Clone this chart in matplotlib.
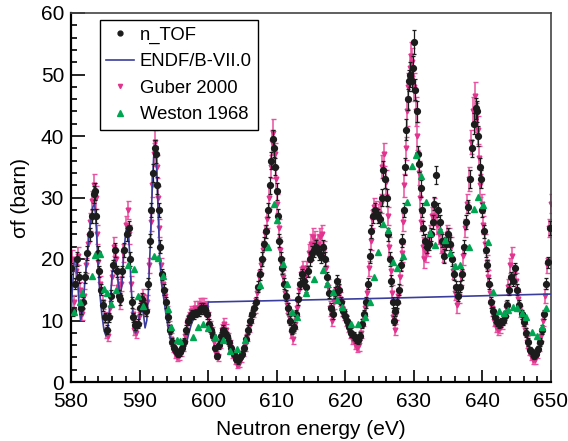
import matplotlib
matplotlib.use("Agg")
import matplotlib.pyplot as plt
from matplotlib.lines import Line2D
from matplotlib.ticker import MultipleLocator

plt.rcParams["font.family"] = ["Liberation Sans", "DejaVu Sans"]

# n_TOF data (energy in eV, fission cross section in barn, uncertainty)
ntof_energy = [
    580.0, 580.3, 580.6, 580.9, 581.2, 581.5, 581.8, 582.1, 582.4, 582.7, 583.0, 583.3, 583.5, 583.7, 583.9, 584.1, 584.4, 584.7,
    585.0, 585.2, 585.5, 585.8, 586.1, 586.4, 586.7, 587.0, 587.2, 587.5, 587.8, 588.1, 588.4, 588.6, 588.9, 589.1, 589.4, 589.7,
    590.0, 590.3, 590.6, 590.9, 591.2, 591.5, 591.7, 592.0, 592.2, 592.4, 592.6, 592.8, 593.0, 593.2, 593.5, 593.8, 594.1, 594.4,
    594.7, 595.0, 595.3, 595.6, 595.9, 596.2, 596.5, 596.8, 597.1, 597.4, 597.7, 598.0, 598.3, 598.6, 598.9, 599.2, 599.5, 599.8,
    600.1, 600.4, 600.7, 601.0, 601.3, 601.6, 601.9, 602.2, 602.5, 602.8, 603.1, 603.4, 603.7, 604.0, 604.3, 604.6, 604.9, 605.2,
    605.5, 605.8, 606.1, 606.4, 606.7, 607.0, 607.3, 607.6, 607.9, 608.2, 608.5, 608.8, 609.0, 609.2, 609.4, 609.6, 609.8,
    610.0, 610.2, 610.4, 610.6, 610.8, 611.0, 611.3, 611.6, 611.9, 612.2, 612.5, 612.8, 613.1, 613.4, 613.7, 614.0, 614.3, 614.6,
    614.9, 615.2, 615.5, 615.8, 616.1, 616.4, 616.7, 617.0, 617.3, 617.6, 617.9, 618.2, 618.5, 618.8, 619.1, 619.4, 619.7,
    620.0, 620.3, 620.6, 620.9, 621.2, 621.5, 621.8, 622.1, 622.4, 622.7, 623.0, 623.3, 623.6, 623.8, 624.1, 624.4, 624.7, 625.0,
    625.3, 625.5, 625.8, 626.1, 626.3, 626.5, 626.7, 626.9, 627.1, 627.3, 627.6, 627.9, 628.1, 628.3, 628.5, 628.7, 628.9, 629.1,
    629.3, 629.5, 629.7, 629.9,
    630.0, 630.2, 630.4, 630.6, 630.8, 631.0, 631.2, 631.4, 631.6, 631.9, 632.2, 632.5, 632.8, 633.0, 633.3, 633.5, 633.8, 634.1,
    634.4, 634.7, 635.0, 635.3, 635.6, 635.9, 636.2, 636.5, 636.8, 637.0, 637.3, 637.6, 637.9, 638.2, 638.5, 638.8, 639.0, 639.2,
    639.4, 639.6, 639.8,
    640.0, 640.2, 640.5, 640.7, 640.9, 641.2, 641.5, 641.8, 642.1, 642.4, 642.7, 643.0, 643.3, 643.6, 643.9, 644.2, 644.5, 644.8,
    645.1, 645.4, 645.7, 646.0, 646.3, 646.6, 646.9, 647.2, 647.5, 647.8, 648.1, 648.4, 648.7, 649.0, 649.3, 649.6, 649.9,
]
ntof_xs = [
    18.5, 11.5, 16, 20, 17, 12, 13, 17, 21, 24, 27, 30.5, 31, 27, 21, 18, 15, 12.5,
    10.5, 8.5, 10.5, 14, 19, 21.5, 18, 14, 13.5, 18, 21.5, 24, 25, 20, 13, 10.5, 9.2, 9.5,
    12, 13.5, 12.5, 11.5, 16, 23, 28, 34, 38, 37, 32, 28, 22, 17.5, 15, 13, 10.5, 8.5,
    6.5, 5.5, 5.0, 4.6, 4.8, 5.5, 6.5, 8.5, 10, 10.5, 11, 11, 11.2, 11.5, 12, 12, 11.8, 11,
    9.5, 8.5, 7.5, 5.5, 4.2, 6, 7.5, 8.5, 8, 7.5, 6.5, 5.5, 4.5, 3.8, 3.5, 4, 4.5, 5.5,
    7, 8.5, 10, 11, 12, 13, 15.5, 17.5, 20, 22.5, 24.5, 28, 32, 36, 39.5, 38, 35,
    31, 27, 23, 20, 18.5, 16, 14, 12, 10, 8.5, 9, 11, 13.5, 16, 17.5, 16.5, 15.5, 18,
    20, 21, 21.5, 22, 21, 20.5, 22, 20, 17, 14.5, 12, 11, 14.5, 16.5, 15, 13, 11.5,
    10.8, 10, 9, 8, 7.5, 7, 6.8, 7.5, 9.5, 11, 13, 16, 20.5, 24.5, 27, 28, 27, 26.5,
    30, 34.5, 33, 30, 24, 20, 16.5, 13, 10, 11.5, 13, 15, 19, 23, 28, 35, 41, 46,
    49, 50, 49, 51,
    55.3, 47.5, 44, 37, 35.5, 31.5, 28, 25, 23, 22, 22.5, 24, 26, 29, 33.7, 28, 26, 23,
    20.5, 22.5, 24, 22.5, 20, 17.5, 15.5, 14, 15.5, 17.5, 22, 26, 28.5, 33, 38, 42, 44.5, 44,
    40, 35, 33,
    28, 24.5, 21.5, 19, 16, 13, 11.5, 10.5, 9.8, 9.5, 9.7, 10, 10.8, 12.5, 15, 17, 16.5, 18.5,
    15, 12.5, 11, 9.8, 8, 6.5, 5.2, 4.8, 4.3, 4.6, 5.3, 6.5, 8.5, 11, 16, 19.5, 25,
]
ntof_err = [
    0.9, 0.7, 0.9, 1.1, 0.9, 0.9, 0.9, 0.9, 1.1, 1.1, 1.1, 1.4, 1.4, 1.1, 1.1, 0.9, 0.9, 0.9,
    0.7, 0.7, 0.7, 0.9, 0.9, 1.1, 0.9, 0.9, 0.9, 0.9, 1.1, 1.1, 1.1, 1.1, 0.9, 0.7, 0.7, 0.7,
    0.9, 0.9, 0.9, 0.7, 0.9, 1.1, 1.1, 1.4, 1.4, 1.4, 1.4, 1.1, 1.1, 0.9, 0.9, 0.9, 0.7, 0.7,
    0.7, 0.5, 0.5, 0.5, 0.5, 0.5, 0.7, 0.7, 0.7, 0.7, 0.7, 0.7, 0.7, 0.7, 0.9, 0.9, 0.7, 0.7,
    0.7, 0.7, 0.7, 0.5, 0.5, 0.6, 0.7, 0.7, 0.7, 0.7, 0.7, 0.5, 0.5, 0.5, 0.5, 0.5, 0.5, 0.5,
    0.7, 0.7, 0.7, 0.7, 0.9, 0.9, 0.9, 0.9, 1.1, 1.1, 1.1, 1.1, 1.4, 1.4, 1.4, 1.4, 1.4,
    1.4, 1.1, 1.1, 1.1, 0.9, 0.9, 0.9, 0.9, 0.7, 0.7, 0.7, 0.7, 0.9, 0.9, 0.9, 0.9, 0.9, 0.9,
    1.1, 1.1, 1.1, 1.1, 1.1, 1.1, 1.1, 1.1, 0.9, 0.9, 0.9, 0.7, 0.9, 0.9, 0.9, 0.9, 0.7,
    0.7, 0.7, 0.7, 0.7, 0.7, 0.7, 0.7, 0.7, 0.7, 0.7, 0.9, 0.9, 1.1, 1.1, 1.1, 1.1, 1.1, 1.1,
    1.4, 1.4, 1.4, 1.4, 1.1, 1.1, 0.9, 0.9, 0.7, 0.7, 0.9, 0.9, 0.9, 1.1, 1.1, 1.4, 1.7, 1.7,
    1.7, 2.0, 1.7, 2.0,
    2.0, 1.7, 1.7, 1.4, 1.4, 1.4, 1.1, 1.1, 1.1, 1.1, 1.1, 1.1, 1.1, 1.1, 1.5, 1.1, 1.1, 1.1,
    1.1, 1.1, 1.1, 1.1, 1.1, 0.9, 0.9, 0.9, 0.9, 0.9, 1.1, 1.1, 1.1, 1.4, 1.4, 1.7, 1.7, 1.7,
    1.7, 1.4, 1.4,
    1.1, 1.1, 1.1, 0.9, 0.9, 0.9, 0.7, 0.7, 0.7, 0.7, 0.7, 0.7, 0.7, 0.9, 0.9, 0.9, 0.9, 0.9,
    0.9, 0.9, 0.7, 0.7, 0.7, 0.7, 0.5, 0.5, 0.5, 0.5, 0.5, 0.7, 0.7, 0.7, 0.9, 0.9, 1.1,
]

# Guber 2000
guber_energy = [
    580.1, 580.4, 580.7, 581.0, 581.3, 581.6, 581.9, 582.2, 582.5, 582.8, 583.1, 583.4, 583.6, 583.8, 584.0, 584.3, 584.6, 584.9,
    585.1, 585.35, 585.65, 585.95, 586.25, 586.55, 586.85, 587.1, 587.35, 587.65, 587.95, 588.25, 588.5, 588.75, 589.0, 589.25,
    589.55, 589.85,
    590.15, 590.45, 590.75, 591.05, 591.35, 591.6, 591.85, 592.1, 592.3, 592.5, 592.7, 592.9, 593.1, 593.35, 593.65, 593.95,
    594.25, 594.55, 594.85, 595.15, 595.45, 595.75, 596.05, 596.35, 596.65, 596.95, 597.25, 597.55, 597.85, 598.15, 598.45,
    598.75, 599.05, 599.35, 599.65, 599.95,
    600.25, 600.55, 600.85, 601.15, 601.45, 601.75, 602.05, 602.35, 602.65, 602.95, 603.25, 603.55, 603.85, 604.15, 604.45,
    604.75, 605.05, 605.35, 605.65, 605.95, 606.25, 606.55, 606.85, 607.15, 607.45, 607.75, 608.05, 608.35, 608.65, 608.9,
    609.1, 609.3, 609.5, 609.7, 609.9,
    610.1, 610.3, 610.5, 610.7, 610.95, 611.2, 611.45, 611.75, 612.05, 612.35, 612.65, 612.95, 613.25, 613.55, 613.85, 614.15,
    614.45, 614.75, 615.05, 615.35, 615.65, 615.95, 616.25, 616.55, 616.85, 617.15, 617.45, 617.75, 618.05, 618.35, 618.65,
    618.95, 619.25, 619.55, 619.85,
    620.15, 620.45, 620.75, 621.05, 621.35, 621.65, 621.95, 622.25, 622.55, 622.85, 623.15, 623.45, 623.7, 623.95, 624.25,
    624.55, 624.85, 625.15, 625.4, 625.65, 625.95, 626.2, 626.4, 626.6, 626.8, 627.0, 627.2, 627.45, 627.75, 628.0, 628.2,
    628.4, 628.6, 628.8, 629.0, 629.2, 629.4, 629.6, 629.8,
    630.05, 630.3, 630.5, 630.7, 630.9, 631.1, 631.3, 631.5, 631.75, 632.05, 632.35, 632.65, 632.9, 633.15, 633.4, 633.65,
    633.95, 634.25, 634.55, 634.85, 635.15, 635.45, 635.75, 636.05, 636.35, 636.65, 636.9, 637.15, 637.45, 637.75, 638.05,
    638.35, 638.6, 638.85, 639.1, 639.3, 639.5, 639.7, 639.9,
    640.1, 640.35, 640.6, 640.8, 641.05, 641.35, 641.65, 641.95, 642.25, 642.55, 642.85, 643.15, 643.45, 643.75, 644.05,
    644.35, 644.65, 644.95, 645.25, 645.55, 645.85, 646.15, 646.45, 646.75, 647.05, 647.35, 647.65, 647.95, 648.25, 648.55,
    648.85, 649.15, 649.45, 649.7, 649.95,
]
guber_xs = [
    20, 13, 18, 20.5, 15, 11, 14, 19, 22.5, 26, 29.5, 32, 30, 24, 19.5, 16, 13, 10.5,
    8, 7.5, 12, 17, 22, 20, 15.5, 13, 16, 21, 25.5, 28, 24, 16, 11, 8.5,
    8, 10.5,
    13, 14, 12, 13, 19, 26, 32, 37, 39, 35, 30, 25, 19, 16, 14, 11.5,
    9, 7, 5.5, 4.5, 4, 4.2, 4.8, 6, 7.5, 9.5, 10.5, 11.5, 11.5, 12, 12,
    12.5, 12.5, 12.5, 12, 10.5,
    9, 8, 6.5, 4.5, 4, 6.5, 8.5, 9.5, 8.5, 7, 6, 4.5, 3.5, 2.8, 3,
    3.8, 4.8, 6, 7.5, 9, 10.5, 11.5, 12.5, 14.5, 17, 19, 21.5, 24, 26.5, 30,
    35, 39, 40.5, 37, 33,
    29, 25, 21.5, 19, 17, 14.5, 12.5, 10.5, 8, 7, 9.5, 12, 15, 17.5, 18.5, 17,
    18.5, 21, 22.5, 23.5, 23, 22.5, 23.5, 24, 21.5, 18.5, 15.5, 12, 10, 13, 15,
    15.5, 13.5, 12, 11,
    10, 9, 8, 7, 6.2, 5.5, 6, 8, 10, 12, 14.5, 18.5, 23, 26.5, 28.5,
    28, 27.5, 29, 35, 37, 32.5, 27, 22, 18, 14.5, 10.5, 8.5, 11, 14, 17, 21,
    26, 32, 38, 44, 48, 51, 53, 52,
    48, 44, 40, 34, 30, 26, 22, 20, 21, 22, 24, 27, 28.5, 27, 25.5, 24,
    22.5, 21, 22, 24, 23.5, 22, 18, 14.5, 12.5, 14, 17, 20.5, 25, 29, 33,
    39, 44, 46.5, 43, 41, 36.5, 32, 29,
    25.5, 22.5, 19.5, 17, 14.5, 12, 10, 9, 8.5, 8.8, 9.5, 10.5, 12, 15.5, 19,
    20.5, 17.5, 16.5, 13.5, 11.5, 10, 8.5, 6.5, 5, 4.2, 3.6, 3.5, 4.5, 6, 7.5,
    10, 14, 19, 25, 29,
]
guber_err = [
    1.5, 1.2, 1.2, 1.5, 1.2, 0.9, 1.2, 1.2, 1.5, 1.5, 1.5, 1.9, 1.9, 1.5, 1.2, 1.2, 1.2, 0.9,
    0.9, 0.9, 1.2, 1.2, 1.5, 1.5, 1.2, 1.2, 1.2, 1.5, 1.5, 1.5, 1.5, 1.2, 0.9, 0.9,
    0.9, 0.9,
    1.2, 1.2, 1.2, 1.2, 1.2, 1.5, 1.9, 1.9, 1.9, 1.9, 1.9, 1.5, 1.2, 1.2, 1.2, 0.9,
    0.9, 0.9, 0.6, 0.6, 0.6, 0.6, 0.6, 0.9, 0.9, 0.9, 0.9, 0.9, 0.9, 1.2, 1.2,
    1.2, 1.2, 1.2, 1.2, 0.9,
    0.9, 0.9, 0.9, 0.6, 0.6, 0.9, 0.9, 0.9, 0.9, 0.9, 0.9, 0.6, 0.6, 0.6, 0.6,
    0.6, 0.6, 0.9, 0.9, 0.9, 0.9, 0.9, 1.2, 1.2, 1.2, 1.2, 1.5, 1.5, 1.5, 1.9,
    1.9, 1.9, 2.3, 1.9, 1.9,
    1.5, 1.5, 1.5, 1.2, 1.2, 1.2, 1.2, 0.9, 0.9, 0.9, 0.9, 1.2, 1.2, 1.2, 1.2, 1.2,
    1.2, 1.5, 1.5, 1.5, 1.5, 1.5, 1.5, 1.5, 1.5, 1.2, 1.2, 1.2, 0.9, 1.2, 1.2,
    1.2, 1.2, 1.2, 0.9,
    0.9, 0.9, 0.9, 0.9, 0.9, 0.6, 0.9, 0.9, 0.9, 1.2, 1.2, 1.2, 1.5, 1.5, 1.5,
    1.5, 1.5, 1.5, 1.9, 1.9, 1.9, 1.5, 1.5, 1.2, 1.2, 0.9, 0.9, 0.9, 1.2, 1.2, 1.5,
    1.5, 1.9, 1.9, 2.3, 2.3, 2.3, 2.3, 2.3,
    2.3, 2.3, 2.3, 1.9, 1.9, 1.5, 1.5, 1.5, 1.5, 1.5, 1.5, 1.5, 1.5, 1.5, 1.5, 1.5,
    1.5, 1.5, 1.5, 1.5, 1.5, 1.5, 1.2, 1.2, 1.2, 1.2, 1.2, 1.5, 1.5, 1.5, 1.9,
    1.9, 2.3, 2.3, 2.3, 2.3, 1.9, 1.9, 1.5,
    1.5, 1.5, 1.2, 1.2, 1.2, 1.2, 0.9, 0.9, 0.9, 0.9, 0.9, 0.9, 1.2, 1.2, 1.2,
    1.5, 1.2, 1.2, 1.2, 0.9, 0.9, 0.9, 0.9, 0.6, 0.6, 0.6, 0.6, 0.6, 0.9, 0.9,
    0.9, 1.2, 1.2, 1.5, 1.5,
]

# Weston 1968
weston_energy = [
    580.5, 581.3, 581.6, 583.0, 583.5, 584.2, 584.8, 585.3, 585.9, 586.5, 588.3, 589.2, 589.7, 590.5, 592.1, 592.7, 593.4,
    594.1, 594.6, 595.4, 595.9, 597.8, 598.5, 599.3, 600.0, 601.0, 602.2, 603.2, 604.2, 605.4, 607.6, 608.8, 609.6, 610.1,
    610.9, 611.5, 612.2, 612.9, 614.2, 615.5, 616.7, 617.4, 618.2, 618.8, 619.5, 620.9, 621.9, 622.9, 623.6, 624.2, 624.7,
    625.5, 626.2, 627.0, 627.6, 628.4, 629.0, 629.7, 630.3, 631.0, 631.7, 632.3, 633.1, 633.8, 634.5, 635.2, 636.0, 636.7,
    638.0, 638.8, 639.4, 640.1, 640.8, 641.6, 642.4, 643.1, 643.8, 644.4, 645.1, 645.7, 646.4, 647.2, 647.9, 648.7, 649.3,
]
weston_xs = [
    11.4, 13.0, 14.4, 17.3, 20.6, 20.8, 15.2, 14.5, 12.7, 14.9, 19.0, 18.3, 14.0, 12.4, 20.5, 20.2, 17.2,
    11.9, 8.9, 6.8, 6.6, 7.3, 8.9, 9.5, 8.7, 7.3, 6.8, 5.1, 5.4, 6.8, 15.7, 22.0, 28.9, 26.3,
    19.2, 16.0, 11.4, 10.6, 14.4, 16.8, 18.2, 16.0, 14.6, 13.3, 12.2, 9.5, 9.5, 10.6, 13.0, 17.1, 21.1,
    25.7, 24.7, 19.5, 18.5, 20.5, 29.2, 35.1, 36.9, 33.5, 29.2, 24.2, 22.3, 24.7, 23.1, 20.9, 18.8, 19.0,
    21.9, 28.1, 30.1, 28.8, 22.8, 14.7, 11.5, 11.2, 11.7, 12.2, 12.0, 11.3, 10.6, 8.1, 7.4, 8.9, 12.0,
]

# ENDF/B-VII.0 evaluation (resolved region ends at 600 eV)
endf_energy = [
    580.0, 580.2, 580.45, 580.7, 580.95, 581.2, 581.4, 581.7, 582.0, 582.4, 582.8, 583.2, 583.45, 583.7, 583.95, 584.2,
    584.5, 584.8, 585.1, 585.35, 585.7, 586.0, 586.3, 586.55, 586.85, 587.15, 587.4, 587.7, 588.0, 588.25, 588.5, 588.8,
    589.1, 589.4, 589.7, 590.0, 590.3, 590.55, 590.8, 591.05, 591.3, 591.55, 591.8, 592.05, 592.25, 592.45, 592.7, 592.95,
    593.2, 593.6, 593.9, 594.3, 594.7, 595.1, 595.5, 596.0, 596.4, 596.8, 597.2, 597.6, 598.0, 598.5, 599.0, 599.5,
    599.95, 600.0, 625.0, 650.0,
]
endf_xs = [
    11, 15, 19.5, 20, 17, 12, 10, 11.5, 16, 21, 25.5, 28.5, 29, 25, 19, 14.5,
    11, 8.5, 7.5, 8.5, 13, 17.5, 20, 19.5, 16.5, 14, 15.5, 21, 24.5, 25, 22, 15,
    10, 8, 8.5, 11, 12, 11.2, 8.8, 10, 15, 22, 30, 36.5, 38.5, 36, 28, 20,
    16, 13, 10.6, 8, 6.2, 5, 4.5, 4.3, 5, 6.2, 8, 9.6, 10.5, 11.1, 11.6, 12,
    12.2, 13.0, 13.6, 14.3,
]

black = "#1c1c1c"
pink = "#e2338e"
pink_bar = "#e8519f"
green = "#00a551"
blue = "#3a3d9c"

fig = plt.figure(figsize=(5.68, 4.41), dpi=100)
ax = fig.add_axes([71 / 568, 59 / 441, 480 / 568, 369 / 441])

ax.errorbar(guber_energy, guber_xs, yerr=guber_err, fmt="v", ms=3.4, color=pink,
            ecolor=pink_bar, elinewidth=1.1, capsize=1.8, capthick=1.0, zorder=2)
ax.plot(endf_energy, endf_xs, color=blue, lw=1.2, zorder=3)
ax.errorbar(ntof_energy, ntof_xs, yerr=ntof_err, fmt="o", ms=4.2, color=black,
            ecolor=black, elinewidth=0.9, capsize=1.6, capthick=0.9, zorder=4)
ax.plot(weston_energy, weston_xs, "^", ms=5, color=green, ls="none", zorder=5)

ax.set_xlim(580, 650)
ax.set_ylim(0, 60)
ax.xaxis.set_major_locator(MultipleLocator(10))
ax.xaxis.set_minor_locator(MultipleLocator(2))
ax.yaxis.set_major_locator(MultipleLocator(10))
ax.yaxis.set_minor_locator(MultipleLocator(2))
ax.tick_params(which="both", direction="in", top=False, right=False, width=1.2, labelsize=15)
ax.tick_params(axis="x", which="major", length=9, pad=7)
ax.tick_params(axis="y", which="major", length=10, pad=5)
ax.tick_params(which="minor", length=4.5)
for side in ["left", "bottom"]:
    ax.spines[side].set_linewidth(1.6)
for side in ["top", "right"]:
    ax.spines[side].set_linewidth(1.2)
    ax.spines[side].set_color("#444444")

ax.set_xlabel("Neutron energy (eV)", fontsize=15, labelpad=7)
ax.set_ylabel("σf (barn)", fontsize=15, labelpad=8)

handles = [
    Line2D([], [], marker="o", ms=3.5, color=black, ls="none"),
    Line2D([], [], color=blue, lw=1.2),
    Line2D([], [], marker="v", ms=3, color=pink, ls="none"),
    Line2D([], [], marker="^", ms=5, color=green, ls="none"),
]
labels = ["n_TOF", "ENDF/B-VII.0", "Guber 2000", "Weston 1968"]
leg = ax.legend(handles, labels, loc="upper left", bbox_to_anchor=(0.06, 0.981),
                borderaxespad=0, fontsize=13.3, frameon=True, fancybox=False,
                framealpha=1, edgecolor="black", handlelength=1.5, handletextpad=0.3,
                labelspacing=0.52, borderpad=0.35)
leg.get_frame().set_linewidth(1.0)

fig.savefig("out.png", dpi=100)
